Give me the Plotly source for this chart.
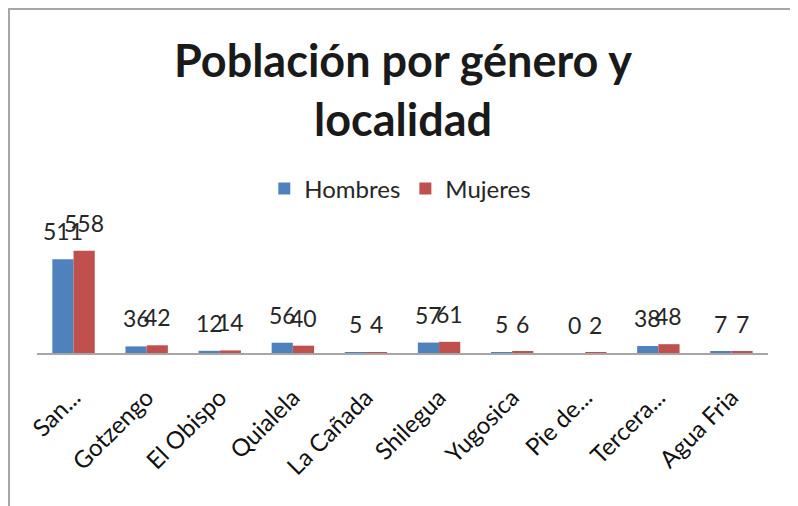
import plotly.graph_objects as go

localidades = ["San...", "Gotzengo", "El Obispo", "Quialela", "La Cañada",
               "Shilegua", "Yugosica", "Pie de...", "Tercera...", "Agua Fria"]
hombres = [511, 36, 12, 56, 5, 57, 5, 0, 38, 7]
mujeres = [558, 42, 14, 40, 4, 61, 6, 2, 48, 7]

FONT = "Lato, 'Open Sans', sans-serif"

fig = go.Figure()
fig.add_trace(go.Bar(
    x=localidades, y=hombres, name="Hombres",
    marker=dict(color="#4F81BD", line=dict(width=0)),
))
fig.add_trace(go.Bar(
    x=localidades, y=mujeres, name="Mujeres",
    marker=dict(color="#C0504D", line=dict(width=0)),
))

# data labels sit a bit higher above the bars than plotly's outside text
for serie, shift in ((hombres, -10.6), (mujeres, 10.6)):
    for loc, v in zip(localidades, serie):
        fig.add_annotation(
            x=loc, y=v, text=str(v), showarrow=False,
            xanchor="center", yanchor="bottom", xshift=shift, yshift=12,
            font=dict(size=23, color="#262626", family=FONT),
        )

# the page body adds an 8px margin, so figure coords = screen coords - 8
# plot area (figure px): x 29..760, y 235..345
fig.update_layout(
    width=798, height=506,
    margin=dict(l=29, r=38, t=235, b=161),
    paper_bgcolor="white", plot_bgcolor="white",
    font=dict(family=FONT, color="#262626"),
    title=dict(
        text="<b>Población por género y<br>localidad</b>",
        x=0.495, xanchor="center", y=0.863, yanchor="middle",
        font=dict(size=45, color="#1a1a1a", family=FONT),
    ),
    barmode="group", bargap=0.42, bargroupgap=0,
    showlegend=True,
    legend=dict(
        orientation="h", x=0.497, xanchor="center", y=(345 - 181) / 110, yanchor="middle",
        font=dict(size=24, color="#262626"), itemwidth=30,
    ),
    xaxis=dict(
        tickangle=-45, tickfont=dict(size=24, color="#111111"),
        showline=True, linecolor="#A6A6A6", linewidth=2,
        ticks="", showgrid=False, ticklabelstandoff=19, automargin=False,
    ),
    yaxis=dict(range=[0, 600], visible=False, showgrid=False, automargin=False),
    shapes=[dict(
        type="rect", xref="paper", yref="paper",
        x0=(1 - 29) / 731, x1=(788 - 29) / 731,
        y0=(345 - 530) / 110, y1=(345 - 1) / 110,
        line=dict(color="#A6A6A6", width=2), fillcolor="rgba(0,0,0,0)",
        layer="below",
    )],
)

fig.write_html("out.html")
